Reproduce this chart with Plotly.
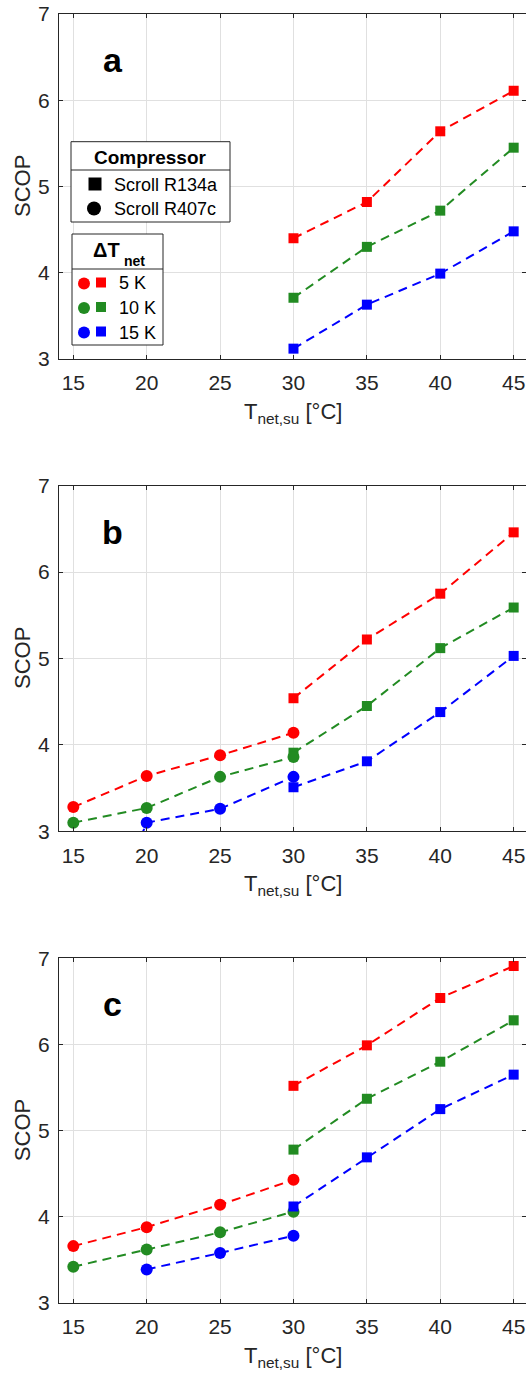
import plotly.graph_objects as go

# Supply temperature grids (°C) for the two compressors
T_R134A = [30, 35, 40, 45]
T_R407C = [15, 20, 25, 30]
T_R407C_C15 = [20, 25, 30]

# Panel a: Scroll R134a only
A_R134A_5K = [4.40, 4.82, 5.64, 6.11]
A_R134A_10K = [3.71, 4.30, 4.72, 5.45]
A_R134A_15K = [3.12, 3.63, 3.99, 4.48]

# Panel b
B_R134A_5K = [4.54, 5.22, 5.75, 6.46]
B_R134A_10K = [3.91, 4.45, 5.12, 5.59]
B_R134A_15K = [3.51, 3.81, 4.38, 5.03]
B_R407C_5K = [3.28, 3.64, 3.88, 4.14]
B_R407C_10K = [3.10, 3.27, 3.63, 3.86]
B_R407C_15K = [1.0, 3.10, 3.26, 3.63]

# Panel c
C_R134A_5K = [5.52, 5.99, 6.54, 6.91]
C_R134A_10K = [4.78, 5.37, 5.80, 6.28]
C_R134A_15K = [4.12, 4.69, 5.25, 5.65]
C_R407C_5K = [3.66, 3.88, 4.14, 4.43]
C_R407C_10K = [3.42, 3.62, 3.82, 4.06]
C_R407C_15K = [3.39, 3.58, 3.78]

X_TICKS = [15, 20, 25, 30, 35, 40, 45]
Y_TICKS = [3, 4, 5, 6, 7]
PANEL_LABELS = ["a", "b", "c"]
DT_LABELS = ["5 K", "10 K", "15 K"]
COMP_LABELS = ["Scroll R134a", "Scroll R407c"]

RED, GREEN, BLUE = "#ff0000", "#228b22", "#0000ff"
COLORS = [RED, GREEN, BLUE]
INK = "#262626"
FONT = "Liberation Sans, Arial, sans-serif"

W, H = 526, 1378
ML, MR, MT, MB = 59, 0, 14, 75
PW, PH = W - ML - MR, H - MT - MB

# pixel helpers -> paper coordinates
def px(x):
    return (x - ML) / PW

def py(y):
    return (H - MB - y) / PH

PANEL_TOP = [14, 485.7, 958.3]
PANEL_BOT = [359, 831.3, 1303]

panels = [
    # (squares per dT, circles per dT)
    ([A_R134A_5K, A_R134A_10K, A_R134A_15K], None),
    ([B_R134A_5K, B_R134A_10K, B_R134A_15K], [B_R407C_5K, B_R407C_10K, B_R407C_15K]),
    ([C_R134A_5K, C_R134A_10K, C_R134A_15K], [C_R407C_5K, C_R407C_10K, C_R407C_15K]),
]

fig = go.Figure()
dash = "9px,6px"

for i, (squares, circles) in enumerate(panels):
    xa = "x" if i == 0 else f"x{i + 1}"
    ya = "y" if i == 0 else f"y{i + 1}"
    for k, col in enumerate(COLORS):
        fig.add_trace(go.Scatter(
            x=T_R134A, y=squares[k], xaxis=xa, yaxis=ya, mode="lines+markers",
            line=dict(color=col, width=2, dash=dash),
            marker=dict(symbol="square", size=10, color=col),
            showlegend=False, hoverinfo="skip"))
        if circles is not None:
            xs = T_R407C if len(circles[k]) == 4 else T_R407C_C15
            fig.add_trace(go.Scatter(
                x=xs, y=circles[k], xaxis=xa, yaxis=ya, mode="lines+markers",
                line=dict(color=col, width=2, dash=dash),
                marker=dict(symbol="circle", size=12, color=col),
                showlegend=False, hoverinfo="skip"))

axis_common = dict(
    showline=True, linecolor=INK, linewidth=1, mirror="ticks",
    ticks="inside", ticklen=4, tickcolor=INK, tickwidth=1,
    showgrid=True, gridcolor="#e0e0e0", gridwidth=1, zeroline=False,
    tickfont=dict(family=FONT, size=21, color=INK),
)

layout = dict(
    width=W, height=H, margin=dict(l=ML, r=MR, t=MT, b=MB),
    paper_bgcolor="white", plot_bgcolor="white", showlegend=False,
)

for i in range(3):
    sx = "" if i == 0 else str(i + 1)
    dom = [py(PANEL_BOT[i]), py(PANEL_TOP[i])]
    layout[f"xaxis{sx}"] = dict(axis_common, domain=[0, 1], range=[14.026, 45.84],
                                tickvals=X_TICKS, anchor=f"y{sx}", ticklabelstandoff=5)
    layout[f"yaxis{sx}"] = dict(axis_common, domain=dom, range=[3, 7],
                                tickvals=Y_TICKS, anchor=f"x{sx}", ticklabelstandoff=4)

fig.update_layout(**layout)

ann = []
shapes = []
for i in range(3):
    top, bot = PANEL_TOP[i], PANEL_BOT[i]
    # axis titles
    ann.append(dict(text="T<sub>net,su</sub> [°C]", x=px(292.5), y=py(bot + 38),
                    xref="paper", yref="paper", xanchor="center", yanchor="top",
                    showarrow=False, font=dict(family=FONT, size=22, color=INK)))
    ann.append(dict(text="SCOP", x=px(22.5), y=py((top + bot) / 2), textangle=-90,
                    xref="paper", yref="paper", xanchor="center", yanchor="middle",
                    showarrow=False, font=dict(family=FONT, size=22, color=INK)))
    # panel letter
    ann.append(dict(text=f"<b>{PANEL_LABELS[i]}</b>", x=px(112.5), y=py(top + 46),
                    xref="paper", yref="paper", xanchor="center", yanchor="middle",
                    showarrow=False, font=dict(family=FONT, size=34, color="black")))

# --- compressor key ---
box_line = dict(color=INK, width=1)
shapes.append(dict(type="rect", xref="paper", yref="paper", x0=px(71), x1=px(230),
                   y0=py(222), y1=py(141.7), line=box_line, fillcolor="white", layer="above"))
shapes.append(dict(type="line", xref="paper", yref="paper", x0=px(71), x1=px(230),
                   y0=py(170), y1=py(170), line=box_line, layer="above"))
ann.append(dict(text="<b>Compressor</b>", x=px(150.5), y=py(157), xref="paper", yref="paper",
                xanchor="center", yanchor="middle", showarrow=False,
                font=dict(family=FONT, size=19, color="black")))
row_y = [185, 209]
for j, lab in enumerate(COMP_LABELS):
    ann.append(dict(text=lab, x=px(111.5), y=py(row_y[j]), xref="paper", yref="paper",
                    xanchor="left", yanchor="middle", showarrow=False,
                    font=dict(family=FONT, size=18, color="black")))
shapes.append(dict(type="rect", xref="paper", yref="paper", x0=px(88.5), x1=px(101.5),
                   y0=py(190.5), y1=py(177.5), line=dict(width=0), fillcolor="black", layer="above"))
shapes.append(dict(type="circle", xref="paper", yref="paper", x0=px(87), x1=px(101),
                   y0=py(215.5), y1=py(201.5), line=dict(width=0), fillcolor="black", layer="above"))

# --- delta-T key ---
shapes.append(dict(type="rect", xref="paper", yref="paper", x0=px(72), x1=px(163),
                   y0=py(345), y1=py(234), line=box_line, fillcolor="white", layer="above"))
shapes.append(dict(type="line", xref="paper", yref="paper", x0=px(72), x1=px(163),
                   y0=py(269), y1=py(269), line=box_line, layer="above"))
ann.append(dict(text="<b>ΔT</b>", x=px(122), y=py(250), xref="paper", yref="paper",
                xanchor="right", yanchor="middle", showarrow=False,
                font=dict(family=FONT, size=20, color="black")))
ann.append(dict(text="<b>net</b>", x=px(121.5), y=py(260.5), xref="paper", yref="paper",
                xanchor="left", yanchor="middle", showarrow=False,
                font=dict(family=FONT, size=14, color="black")))
dt_rows = [283.5, 308, 332.5]
for j, lab in enumerate(DT_LABELS):
    yc = dt_rows[j]
    ann.append(dict(text=lab, x=px(116.5), y=py(yc), xref="paper", yref="paper",
                    xanchor="left", yanchor="middle", showarrow=False,
                    font=dict(family=FONT, size=18, color="black")))
    shapes.append(dict(type="circle", xref="paper", yref="paper", x0=px(78), x1=px(90),
                       y0=py(yc + 6), y1=py(yc - 6), line=dict(width=0),
                       fillcolor=COLORS[j], layer="above"))
    shapes.append(dict(type="rect", xref="paper", yref="paper", x0=px(96), x1=px(106),
                       y0=py(yc + 4), y1=py(yc - 6), line=dict(width=0),
                       fillcolor=COLORS[j], layer="above"))

fig.update_layout(annotations=ann, shapes=shapes)
fig.write_html("out.html")
